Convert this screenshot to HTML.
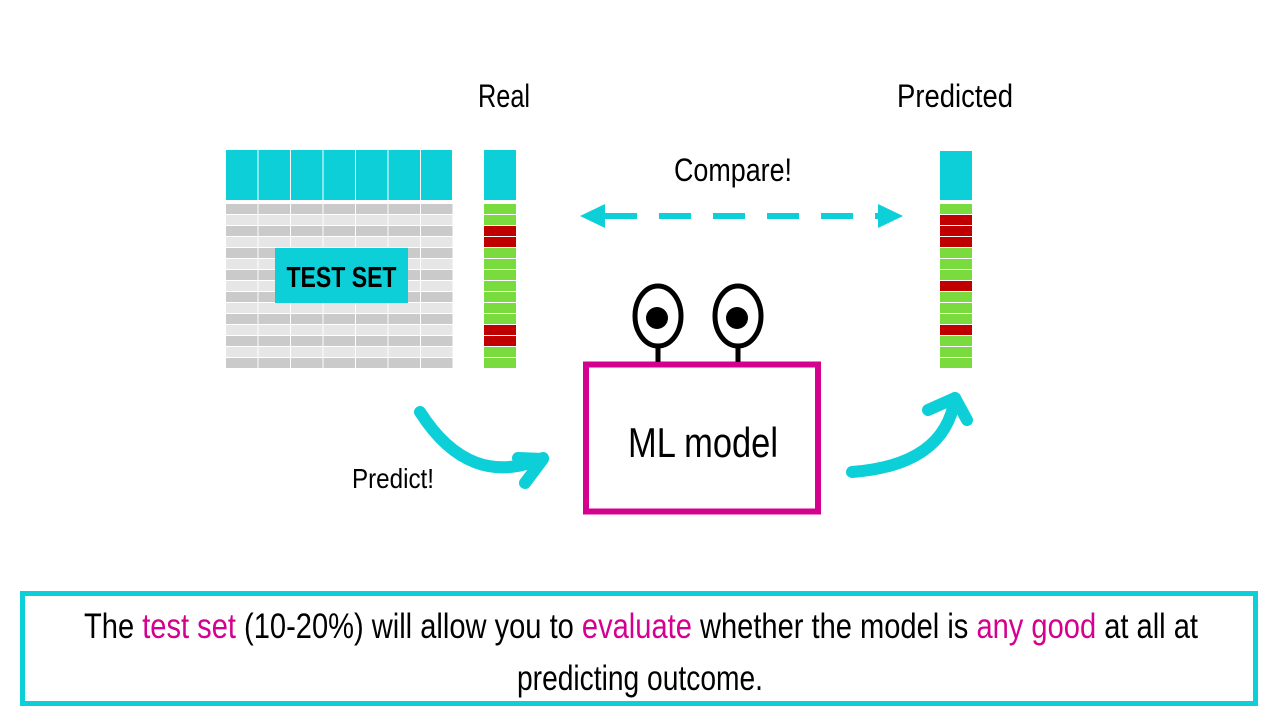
<!DOCTYPE html>
<html><head><meta charset="utf-8"><style>
html,body{margin:0;padding:0;background:#fff;}
svg{display:block;}
text{font-family:"Liberation Sans Narrow","Liberation Sans",sans-serif;fill:#000;}
</style></head><body>
<svg width="1280" height="720" viewBox="0 0 1280 720" xmlns="http://www.w3.org/2000/svg">
<rect width="1280" height="720" fill="#fff"/>
<!-- table header -->
<g fill="#0ccfd8">
<rect x="226" y="150" width="31.5" height="50"/><rect x="258.5" y="150" width="31.5" height="50"/>
<rect x="291" y="150" width="31.5" height="50"/><rect x="323.5" y="150" width="31.5" height="50"/>
<rect x="356" y="150" width="31.5" height="50"/><rect x="388.5" y="150" width="31.5" height="50"/>
<rect x="421" y="150" width="31" height="50"/>
<rect x="484" y="150" width="32" height="50"/>
<rect x="940" y="151" width="32" height="49"/>
</g>
<g id="rows"></g>
<!-- TEST SET label -->
<rect x="275" y="248" width="133" height="55" fill="#0ccfd8"/>
<text x="341.5" y="287" font-size="29" font-weight="bold" text-anchor="middle" textLength="110" lengthAdjust="spacingAndGlyphs">TEST SET</text>
<!-- headings -->
<text x="504" y="107" font-size="32" text-anchor="middle" textLength="52" lengthAdjust="spacingAndGlyphs">Real</text>
<text x="955" y="107" font-size="32" text-anchor="middle" textLength="116" lengthAdjust="spacingAndGlyphs">Predicted</text>
<text x="733" y="181" font-size="32" text-anchor="middle" textLength="118" lengthAdjust="spacingAndGlyphs">Compare!</text>
<text x="393" y="488" font-size="28" text-anchor="middle" textLength="82" lengthAdjust="spacingAndGlyphs">Predict!</text>
<!-- compare arrow -->
<line x1="605" y1="216" x2="880" y2="216" stroke="#0ccfd8" stroke-width="6" stroke-dasharray="32,22"/>
<polygon points="580,216 605,204 605,228" fill="#0ccfd8"/>
<polygon points="903,216 878,204 878,228" fill="#0ccfd8"/>
<!-- ML model box -->
<rect x="586" y="364.5" width="232" height="147" fill="none" stroke="#d4008f" stroke-width="6"/>
<text x="703" y="457" font-size="42" text-anchor="middle" textLength="150" lengthAdjust="spacingAndGlyphs">ML model</text>
<!-- eyes -->
<g stroke="#000" stroke-width="5" fill="#fff">
<line x1="658" y1="345" x2="658" y2="362"/><line x1="738" y1="345" x2="738" y2="362"/>
<ellipse cx="658" cy="316" rx="23" ry="30"/><ellipse cx="738" cy="316" rx="23" ry="30"/>
</g>
<circle cx="657" cy="318" r="11" fill="#000"/><circle cx="737" cy="318" r="11" fill="#000"/>
<!-- curved arrows -->
<g fill="none" stroke="#0ccfd8" stroke-width="12" stroke-linecap="round" stroke-linejoin="round">
<path d="M420 412 Q470 490 543 458"/>
<path d="M518 458 L543 459 L525 483" />
<path d="M852 472 Q945 465 955 398"/>
<path d="M928 410 L955 398 L967 420"/>
</g>
<!-- bottom box -->
<rect x="22.5" y="593.5" width="1233" height="110" fill="none" stroke="#0ccfd8" stroke-width="5"/>
<text x="641" y="638" font-size="35" text-anchor="middle" textLength="1114" lengthAdjust="spacingAndGlyphs">The <tspan fill="#d4008f">test set</tspan> (10-20%) will allow you to <tspan fill="#d4008f">evaluate</tspan> whether the model is <tspan fill="#d4008f">any good</tspan> at all at</text>
<text x="640" y="690" font-size="35" text-anchor="middle" textLength="246" lengthAdjust="spacingAndGlyphs">predicting outcome.</text>
<script>
(function(){
var g=document.getElementById('rows'),ns='http://www.w3.org/2000/svg';
function r(x,y,w,h,c){var e=document.createElementNS(ns,'rect');e.setAttribute('x',x);e.setAttribute('y',y);e.setAttribute('width',w);e.setAttribute('height',h);e.setAttribute('fill',c);g.appendChild(e);}
var real='GGRRGGGGGGGRRGG',pred='GRRRGGGRGGGRGGG';
var xs=[226,258.5,291,323.5,356,388.5,421];
for(var i=0;i<15;i++){
 var y=204+i*11;
 var c=(i%2==0)?'#cacaca':'#e6e6e6';
 for(var j=0;j<7;j++)r(xs[j],y,31.5,10,c);
 r(484,y,32,10,real[i]=='G'?'#7adb3e':'#c00000');
 r(940,y,32,10,pred[i]=='G'?'#7adb3e':'#c00000');
}
})();
</script>
</svg>
</body></html>
